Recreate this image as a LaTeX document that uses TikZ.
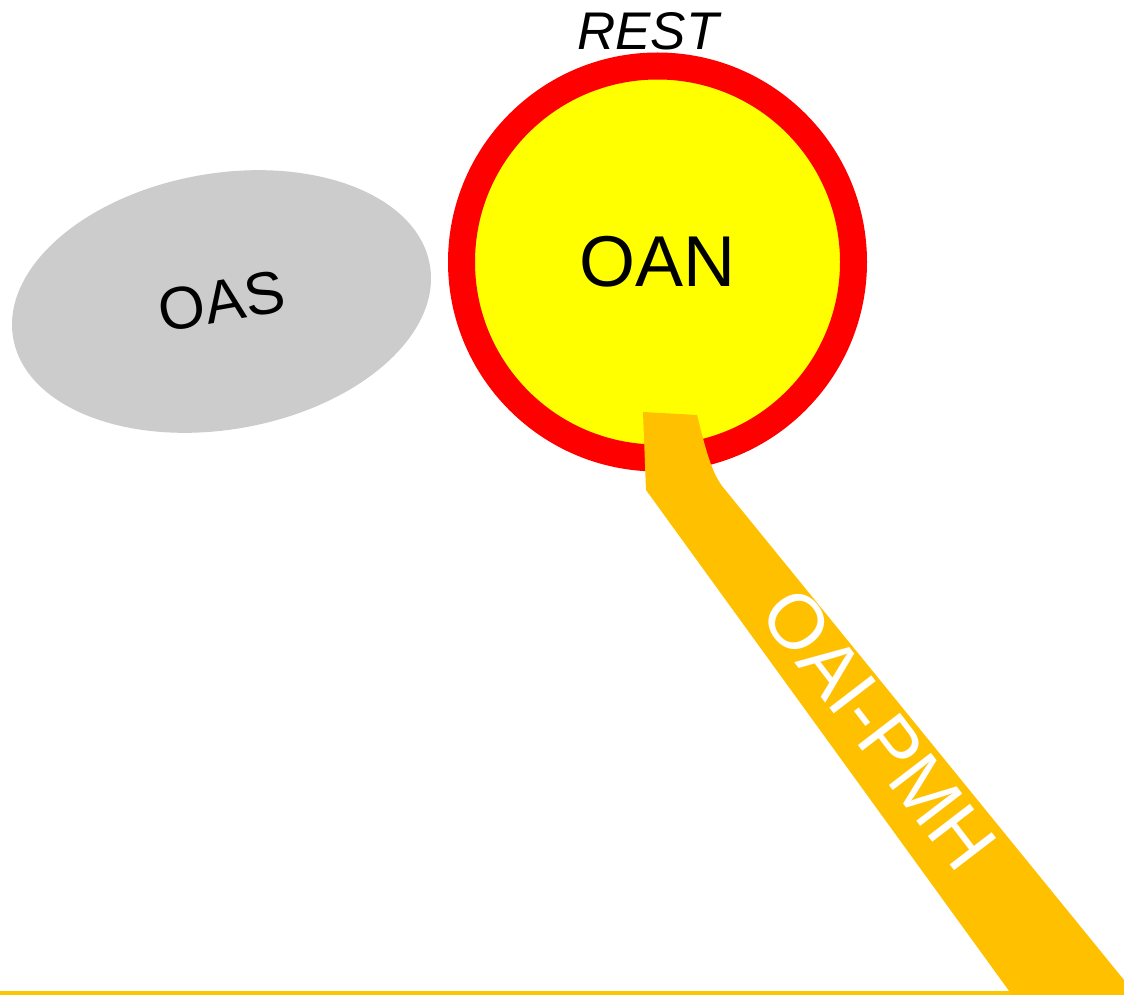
\documentclass[tikz,border=0pt]{standalone}
\usepackage{fontspec}
\setmainfont{Liberation Sans}
\usetikzlibrary{shapes.geometric}
\definecolor{ringred}{HTML}{FF0000}
\definecolor{coreyellow}{HTML}{FFFF00}
\definecolor{oasgray}{HTML}{CCCCCC}
\definecolor{bandorange}{HTML}{FFC000}
\definecolor{lineyellow}{HTML}{FAC800}
\tikzset{
  oasshape/.style={ellipse, fill=oasgray, draw=none, inner sep=0pt,
    minimum width=423pt, minimum height=256pt, rotate=10,
    font=\fontsize{60}{60}\selectfont},
  oanshape/.style={circle, fill=coreyellow, draw=ringred, line width=27pt,
    inner sep=0pt, minimum size=392pt, font=\fontsize{72}{72}\selectfont},
  toplabel/.style={font=\fontsize{53}{53}\selectfont\itshape, inner sep=0pt},
  bandlabel/.style={font=\fontsize{77}{77}\selectfont, text=white, inner sep=0pt, rotate=-52.5},
  bandfill/.style={fill=bandorange, draw=none},
  baseline/.style={draw=lineyellow, line width=4pt}
}
\begin{document}
\begin{tikzpicture}[x=1pt,y=-1pt]
\useasboundingbox (0,0) rectangle (1124,995);
\fill[white] (0,0) rectangle (1124,995);
% bottom line
\coordinate (l1) at (0,993);
\coordinate (l2) at (1124,993);
\draw[baseline] (l1) -- (l2);
% OAS ellipse
\node[oasshape] (oas) at (221.5,301.5) {OAS};
% OAN circle
\node[oanshape] (oan) at (657.5,262) {OAN};
\node[toplabel] (rest) at (648,31) {REST};
% band
\coordinate (b1) at (643,412);
\coordinate (b2) at (697,415);
\coordinate (b3) at (722,486);
\coordinate (b4) at (1124,980);
\coordinate (b5) at (1124,995);
\coordinate (b6) at (1012,995);
\coordinate (b7) at (646,490);
\fill[bandfill] (b1) -- (b2) .. controls (707,455) and (712,472) .. (b3) -- (b4) -- (b5) -- (b6) -- (b7) -- cycle;
\node[bandlabel] (oai) at (879,729) {OAI-PMH};
\end{tikzpicture}
\end{document}
